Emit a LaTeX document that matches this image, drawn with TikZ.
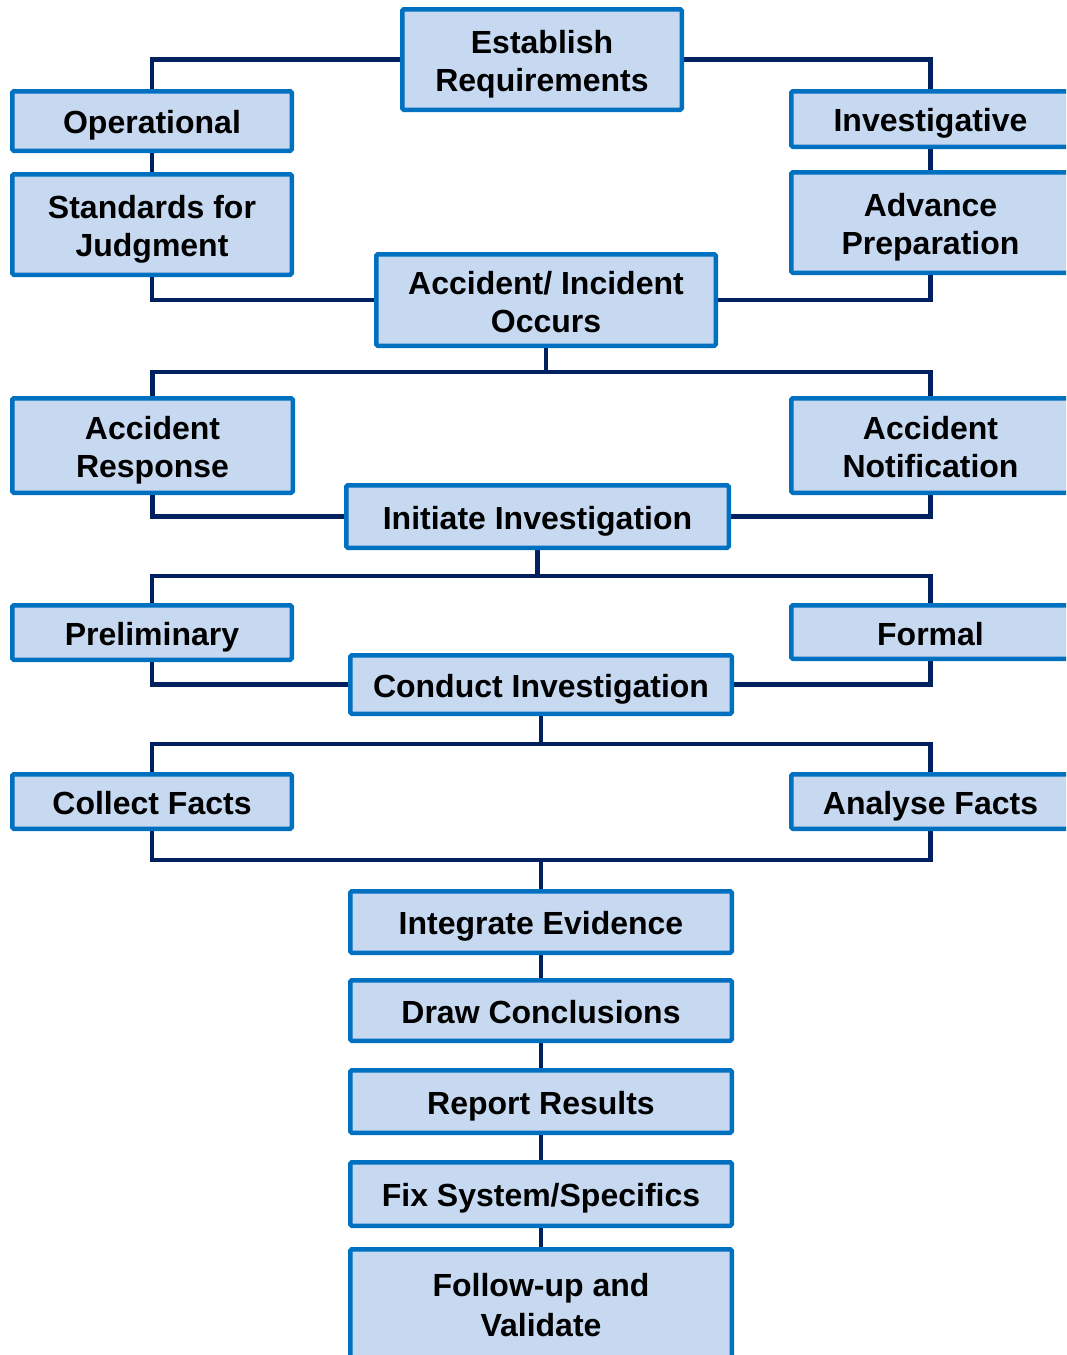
\documentclass[tikz,border=0pt]{standalone}
\usepackage{fontspec}
\setmainfont{Liberation Sans}
\usetikzlibrary{backgrounds}
\definecolor{boxfill}{HTML}{C6D9F1}
\definecolor{boxline}{HTML}{0070C0}
\definecolor{linkcol}{HTML}{002060}
\tikzset{
  stage/.style={rectangle, draw=boxline, fill=boxfill, line width=4.5pt,
    rounded corners=1.5pt, align=center, inner sep=0pt,
    font=\fontsize{32}{38}\selectfont\bfseries},
  link/.style={draw=linkcol, line width=4.5pt, line join=miter}
}
% fixed line metrics so every label sits at the same height in its box
\newcommand{\linestrut}{\rule[-6pt]{0pt}{38pt}}
\newcommand{\stagebox}[6]{%
  \node[stage, minimum width=#4-4.5pt, minimum height=#5-4.5pt] (#1) at (#2,#3)
    {\linestrut#6\linestrut};}
\begin{document}
\begin{tikzpicture}[x=1pt,y=-1pt]
\useasboundingbox (0,0) rectangle (1066,1355);
\clip (0,0) rectangle (1066,1355);
% top level
\stagebox{est}{542}{59.5}{284}{105}{Establish\\Requirements}
\stagebox{oper}{152}{121}{284}{64}{Operational}
\stagebox{std}{152}{224.5}{284}{105}{Standards for\\Judgment}
\stagebox{inv}{930.5}{119}{283}{60}{Investigative}
\stagebox{adv}{930.5}{222.5}{283}{105}{Advance\\Preparation}
\stagebox{occ}{546}{300}{344}{96}{Accident/ Incident\\Occurs}
% response stage
\stagebox{resp}{152.5}{445.5}{285}{99}{Accident\\Response}
\stagebox{notif}{930.5}{445.5}{283}{99}{Accident\\Notification}
\stagebox{init}{537.5}{516.5}{387}{67}{Initiate Investigation}
% investigation type
\stagebox{prel}{152}{632.5}{284}{59}{Preliminary}
\stagebox{formal}{930.5}{632}{283}{58}{Formal}
\stagebox{cond}{541}{684.5}{386}{63}{Conduct Investigation}
% facts
\stagebox{collect}{152}{801.5}{284}{59}{Collect Facts}
\stagebox{analyse}{930.5}{801.5}{283}{59}{Analyse Facts}
% closing chain
\stagebox{integ}{541}{922}{386}{66}{Integrate Evidence}
\stagebox{concl}{541}{1010.5}{386}{65}{Draw Conclusions}
\stagebox{report}{541}{1101.5}{386}{67}{Report Results}
\stagebox{fix}{541}{1194}{386}{68}{Fix System/Specifics}
\stagebox{follow}{541}{1303.5}{386}{113}{Follow-up and\\Validate}
% bus junctions
\coordinate (busA) at (546,372);
\coordinate (busB) at (537.5,576);
\coordinate (busC) at (541,744);
\coordinate (busD) at (541,860);
\begin{scope}[on background layer]
\draw[link] (est.west) -| (oper.north);
\draw[link] (est.east) -| (inv.north);
\draw[link] (oper.south) -- (std.north);
\draw[link] (inv.south) -- (adv.north);
\draw[link] (std.south) |- (occ.west);
\draw[link] (adv.south) |- (occ.east);
\draw[link] (occ.south) -- (busA);
\draw[link] (resp.north) |- (busA) -| (notif.north);
\draw[link] (resp.south) |- (init.west);
\draw[link] (notif.south) |- (init.east);
\draw[link] (init.south) -- (busB);
\draw[link] (prel.north) |- (busB) -| (formal.north);
\draw[link] (prel.south) |- (cond.west);
\draw[link] (formal.south) |- (cond.east);
\draw[link] (cond.south) -- (busC);
\draw[link] (collect.north) |- (busC) -| (analyse.north);
\draw[link] (collect.south) |- (busD) -| (analyse.south);
\draw[link] (busD) -- (integ.north);
\draw[link] (integ.south) -- (concl.north);
\draw[link] (concl.south) -- (report.north);
\draw[link] (report.south) -- (fix.north);
\draw[link] (fix.south) -- (follow.north);
\end{scope}
\end{tikzpicture}
\end{document}
